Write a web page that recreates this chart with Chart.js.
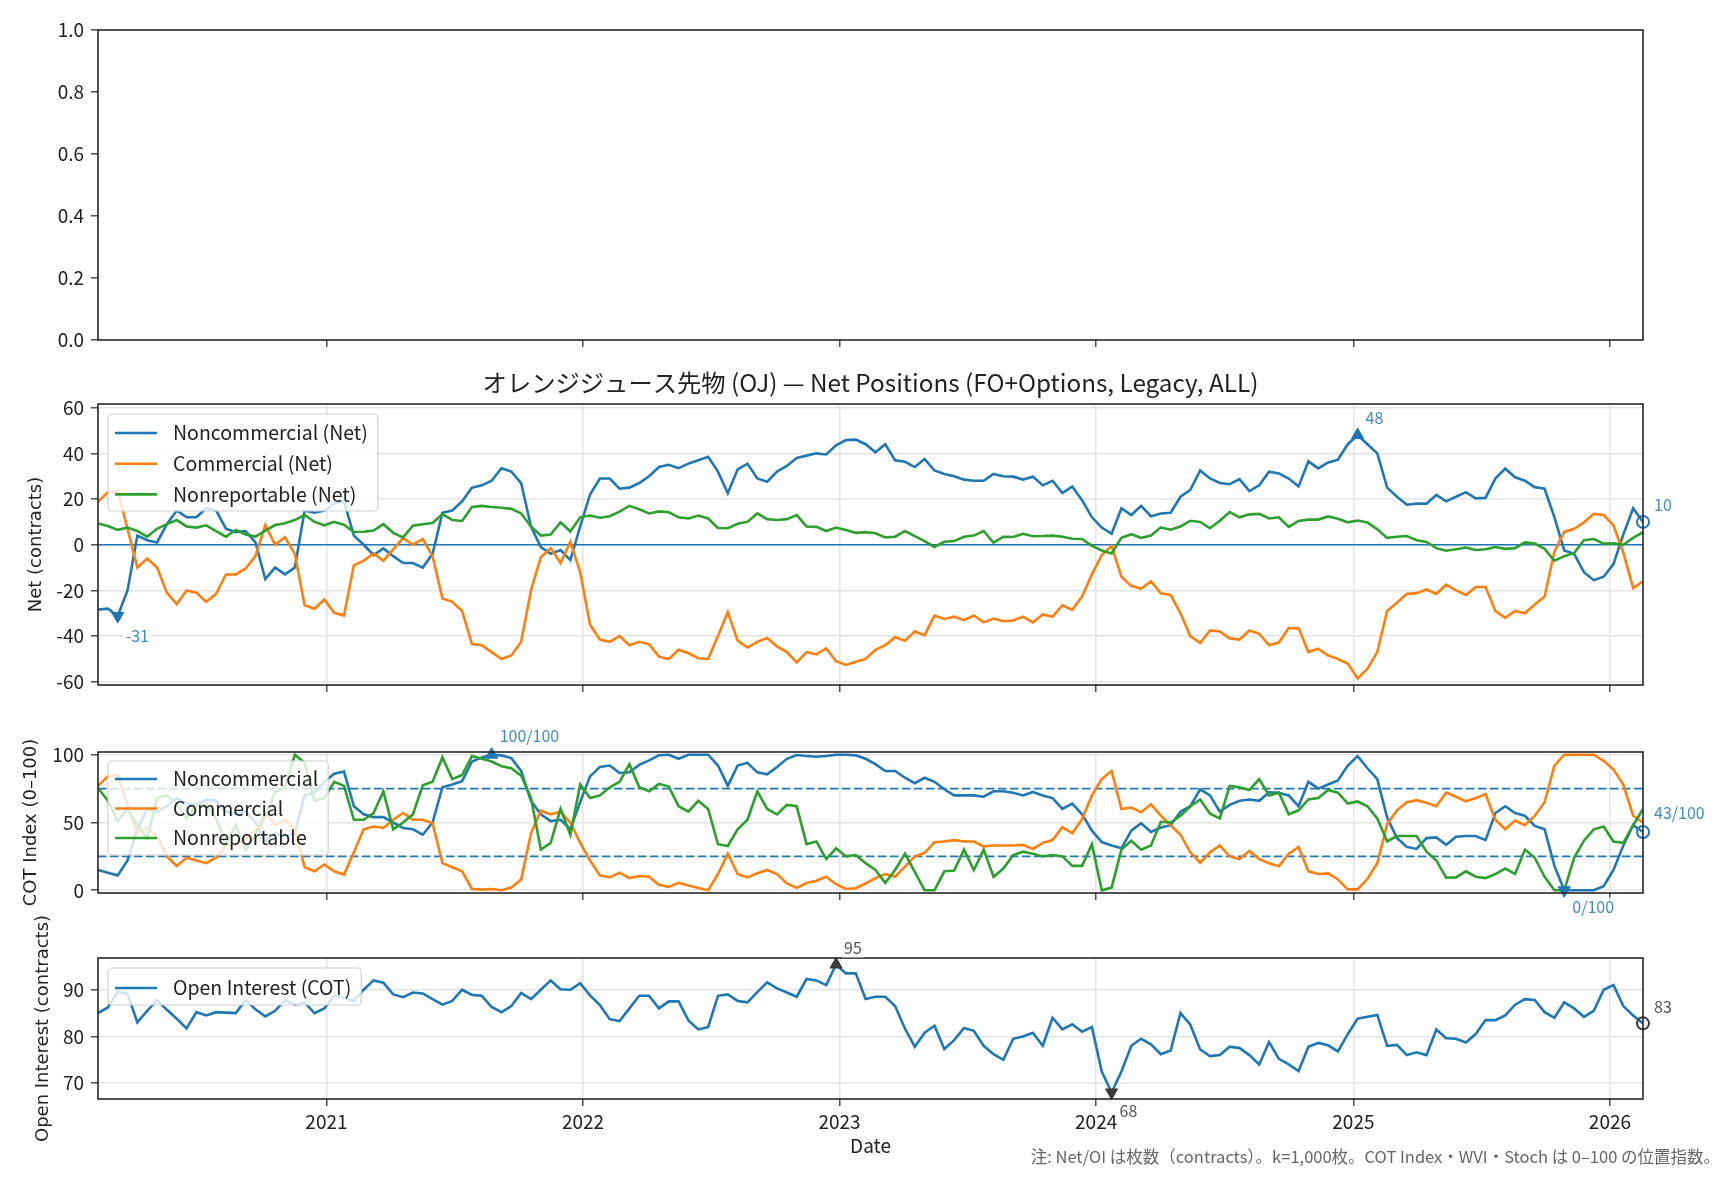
<!DOCTYPE html>
<html>
<head>
<meta charset="utf-8">
<script src="https://cdn.jsdelivr.net/npm/chart.js@4.4.1/dist/chart.umd.min.js"></script>
<style>
  body { margin: 0; background: #fff; width: 1728px; height: 1180px; overflow: hidden; position: relative; }
  .panel { position: absolute; left: 0; width: 1728px; }
</style>
</head>
<body>
<div class="panel" style="top:0px;height:370px"><canvas id="c1"></canvas></div>
<div class="panel" style="top:360px;height:355px"><canvas id="c2"></canvas></div>
<div class="panel" style="top:715px;height:208px"><canvas id="c3"></canvas></div>
<div class="panel" style="top:895px;height:285px"><canvas id="c4"></canvas></div>
<script>
// weekly COT reports, sampled every 2 weeks, 2020-02-11 .. 2026-02-17 (thousand contracts)
const nonCommNet = [-28.4,-28,-31.2,-20,4,2,1,9,15,12,12,16,15,7,5.5,6,1,-15,-10,-13,-10,15,14,15,18,19,4,0,-4.5,-1.6,
  -5,-8,-8,-10,-4,14,15,19,25,26,28,33.5,32,27,8,-1,-4,-2.3,-6.7,8,22,29,29,24.5,25,27,30,34,35,33.5,
  35.5,37,38.5,32,22.5,33,35.5,29,27.6,32,34.5,38,39,40,39.5,43.5,45.8,46,44,40.5,44,37,36.3,34,37.5,32.5,31,30,28.5,28,
  28,31,30,29.8,28.5,29.8,26,28,22.6,25.5,19.5,12,7.5,4.8,16,13,17,12.5,13.7,14,21,24,32.5,29,27,26.5,28.7,23.5,26,32,
  31.2,29,25.5,36.5,33.4,36,37.2,44,48,44,40,25,21,17.5,18,18,21.8,19,21,23,20.3,20.5,29,33.3,29.5,28,25.2,24.5,12,-2.5,
  -4,-12,-15.5,-14,-8.5,4.5,16,10];
const commNet = [18.8,23,23.5,7,-10,-6,-10,-21,-26,-20,-21,-25,-21.5,-13,-13,-10.4,-5,8.6,0,3.3,-4,-26.5,-28,-24,-29.8,-31,-9,-7,-3.8,-7,
  -2,3,0,2.5,-5,-23.5,-25,-29,-43.5,-44,-47,-50,-48.5,-42.5,-20,-5.5,-1.5,-8,1.3,-12,-35,-41.5,-42.5,-40,-44,-42.5,-43.5,-49,-50,-46,
  -47.5,-49.7,-50,-40,-29.5,-42,-45,-42.5,-40.8,-44.5,-47,-51.5,-47,-48,-45.4,-51,-52.6,-51.2,-50,-46,-44,-40.5,-42,-38,-39.6,-31,-32.5,-31.5,-33,-31,
  -34,-32.3,-33.5,-33.2,-31.5,-34,-30.5,-31.5,-26.5,-28.5,-22.7,-13,-4.5,-0.5,-14,-18,-19.3,-16,-21.3,-22,-30,-40,-43,-37.5,-38,-41,-41.5,-37.5,-39,-44,
  -42.8,-36.5,-36.5,-47,-45.5,-48.5,-50,-52,-58.5,-54.3,-47,-29,-25.4,-21.5,-21.2,-19.6,-21.5,-17.5,-20,-22,-18.5,-18.5,-29,-32,-29,-30,-26.2,-22.7,-3,5.6,
  7,9.8,13.5,13,8.5,-3.5,-19,-16];
const nonReptNet = [9.3,8.2,6.5,7.5,6,3.5,7,9,10.8,8,7.5,8.5,6,3.5,6.5,4.5,3.6,6.2,8.6,9.4,10.8,13,10,8.5,10,8.8,5.6,5.7,6.2,9,
  5.2,3.2,8.3,9,9.5,13.4,10.8,10.4,16.5,17,16.5,16.2,15.7,13.7,8,4,4.5,9.8,5.8,12,12.8,11.8,12.5,14.5,17,15.5,13.7,14.6,14.2,12,
  11.5,12.8,11.5,7.3,7.2,9.2,10,13.7,11.2,10.8,11.2,13,8,7.8,6,7.5,6.4,5.2,5.5,5,3.2,3.5,6,3.8,1.6,-1,1.3,1.6,3.5,4,
  6,0.9,3.5,3.4,4.8,3.7,3.8,4,3.5,2.6,2.5,-0.5,-2.5,-3.8,3,4.6,3,4,7.6,6.6,8,10.5,10,7.2,10.5,14.3,12,13.3,13.5,11.5,
  12,7.8,10.4,11,11,12.4,11.4,9.8,10.6,9.7,6.8,3,3.5,3.8,2,1.2,-1.5,-2.6,-2,-1.2,-2.3,-2,-1,-1.8,-1.5,1,0.5,-1.8,-7,-5,
  -3.6,2,2.5,0.5,0.6,0,3,5.5];

// COT Index (0-100)
const nonCommIdx = [15,13,11,22,45,60,58,62,68,64,63,67,66,58,56,58,50,36,42,40,42,70,72,80,86,87.6,62,56,54,54,
  50,46,45,41,50,76,78,80.5,95,98,100,99.5,97.5,88,66,56,51,52,45,65,84,91,92,86.5,87,92.5,95.8,99.6,100,97,
  100,100,100,92,77,92,94,87,85.5,91,97,99.8,99,98.5,99,100,100,99.5,97,93,88,88,83,79,83,80,74.5,70,70,70,
  69,73,73,72,70,72.5,70,68,60,64,56,44,35.6,33,31,44,49.5,43,46.3,48,58,62,74.5,70,58,63,66,67,66,72.3,
  72,70,62,80,75,78,81,92,99,90,82,53.7,38.5,32,30.5,38.5,39,33.5,39.5,40,40,37,57,62,57,55,47.5,45,18,0,
  0,0,0,3,15,33,48,43];
const commIdx = [77,84,85,63,42,46,40,25,18,24,22,20,24,33,34,38,44,57,48,52,45,17,14,19,14,11.6,28,45,47,46,
  52,57,52,52,49.5,20,17,14,1,0.5,1,0,2,8,42,58.7,56,58,50,35,22,11,9.5,13,9,10.5,10,4,2.5,5.5,
  3.5,1.7,0,12,27,12,9.5,12.5,15,12,5,1.8,5.4,7,10,4.5,1,1.5,5,9,12,10,17.5,25,27.6,35.4,36,37,36,36,
  32.4,33,33,33,33.5,30.5,35,37,46.5,42,52.5,70,82,88,60,61,57.5,63.4,55,48,41,28,20.3,28,33,25,23,29,23,20,
  17.8,27,32,14,12,12.5,8,0.7,0.7,8.5,20,48.8,59,65,66.5,64.6,62,72,69,65.6,68,71,52,45,51.5,48,55,65,92,100,
  100,100,100,95.5,89,78,55,50];
const nonReptIdx = [75.5,66,51,60,48,38,68,70,64,53,63,63,53,34,48,30,41,55,72.5,76,100,94,66,68,80,77,52,52,57,73,
  45,50,56,77.5,80,98,82,85,99,97,95,91.5,90,84.6,68,30,35,60,41,78,68,70,76,80,93,76,73,78.5,76.5,62,
  58,66,60,34,32.7,45,52,73,60,56,63,62,34,36,23,31,25,26,20,15,5.5,15,27,13.5,0,0,14,14.6,30,15,
  30,10,16,26,28.5,27,25,26,25,18,18,34,0,2,30,36.6,30,33,50.5,50,55,62,67,56.5,53,77,76,74,82,70,
  72,56,59,67,68,74,72,64,65.5,62,53,36,40,40,40,28.5,22,9.3,9.5,14,10,9,12,16,12,30,24,10,0,0,
  24,36.6,45,47,36,35,48,60];

// Open interest (thousand contracts)
const openInterest = [85,86.2,89.6,89.1,83,85.5,87.8,85.7,83.8,81.7,85.2,84.5,85.2,85.1,85,87.8,85.8,84.3,85.5,87.8,86.8,87.3,85,86,88.7,88.3,87.6,90,92,91.5,
  89,88.4,89.4,89.2,88,86.8,87.6,90,88.9,88.7,86.3,85.2,86.5,89.3,88,90,92,90.1,90,91.4,88.8,86.7,83.7,83.3,86,88.7,88.7,86,87.5,87.5,
  83.4,81.5,82,88.7,89,87.6,87.3,89.5,91.6,90.3,89.4,88.5,92.3,92,91,95.4,93.5,93.5,88,88.5,88.5,86.5,81.7,77.8,80.8,82.3,77.3,79.2,81.8,81.2,
  78,76.2,75,79.5,80,80.8,78,84,81.5,82.6,81,82,72.5,68,72.5,78,79.5,78.3,76.2,77,85,82.5,77.2,75.8,76,77.8,77.5,76,74,78.8,
  75.2,74,72.6,77.8,78.6,78.1,76.8,80.5,83.8,84.2,84.6,78,78.2,76,76.6,76,81.5,79.6,79.5,78.7,80.5,83.5,83.5,84.5,86.8,88,87.8,85.2,84,87.3,
  86,84.2,85.5,90,91,86.5,84.5,82.8];

const YEARS = [2021, 2022, 2023, 2024, 2025, 2026];
const START = Date.UTC(2020, 1, 11);
const dates = nonCommNet.map((v, i) => START + i * 14 * 86400000);

const BLUE = '#1f77b4', ORANGE = '#ff7f0e', GREEN = '#2ca02c';
const GRID = '#e4e4e4';
const TXT = '#222';
const FONT = "'Noto Sans CJK JP', 'Noto Sans', sans-serif";
const LBL_BLUE = 'rgba(31,119,180,0.85)';
const LW = 2.6;

Chart.defaults.font.family = FONT;
Chart.defaults.color = TXT;

const pts = vals => vals.map((v, i) => ({ x: dates[i], y: v }));
const argMax = a => a.indexOf(Math.max(...a));
const argMin = a => a.indexOf(Math.min(...a));

function line(label, vals, color, order) {
  return { label, data: pts(vals), borderColor: color, backgroundColor: color,
    borderWidth: LW, pointRadius: 0, tension: 0, order };
}
function marker(vals, i, color, style, down) {
  const hollow = style === 'circle';
  return { data: [{ x: dates[i], y: vals[i] }], showLine: false, clip: false, order: 0,
    pointStyle: style, pointRotation: down ? 180 : 0, pointRadius: hollow ? 6 : 7,
    pointBackgroundColor: hollow ? 'rgba(0,0,0,0)' : color, pointBorderColor: color,
    pointBorderWidth: hollow ? 2 : 1 };
}

function xScale(showLabels, h, grid, title) {
  return {
    type: 'linear', min: dates[0], max: dates[dates.length - 1],
    afterBuildTicks: s => { s.ticks = YEARS.map(y => ({ value: Date.UTC(y, 0, 1) })); },
    afterFit: s => { s.height = h; },
    border: { display: false },
    grid: { display: true, drawOnChartArea: grid, color: GRID, lineWidth: 1.6,
      tickLength: 7, tickColor: '#333', tickWidth: 1.3 },
    ticks: { display: showLabels, padding: 4, color: TXT, font: { size: 19 },
      callback: v => String(new Date(v).getUTCFullYear()) },
    title: title ? { display: true, text: title, color: TXT, font: { size: 19 }, padding: { top: 4, bottom: 4 } }
                 : { display: false }
  };
}
function yScale(min, max, ticks, padLeft, grid, title, fmt) {
  return {
    min, max,
    afterBuildTicks: s => { s.ticks = ticks.map(v => ({ value: v })); },
    afterFit: s => { s.width = 98 - padLeft; },
    border: { display: false },
    grid: { display: true, drawOnChartArea: grid, color: GRID, lineWidth: 1.6,
      tickLength: 7, tickColor: '#333', tickWidth: 1.3 },
    ticks: { padding: 7, color: TXT, font: { size: 19 }, callback: fmt || (v => String(v)) },
    title: title ? { display: true, text: title, color: TXT,
      font: { family: "'DejaVu Sans', sans-serif", size: 18 }, padding: { top: 4, bottom: 4 } }
                 : { display: false }
  };
}

// frame, reference lines, legend and value labels
function panelPlugin(p) {
  return {
    id: 'panel',
    beforeDatasetsDraw(chart) {
      const { ctx, chartArea: a, scales: { y } } = chart;
      (p.hlines || []).forEach(h => {
        const py = y.getPixelForValue(h.v);
        ctx.save();
        ctx.strokeStyle = BLUE; ctx.lineWidth = 1.7;
        ctx.setLineDash(h.dash || []);
        ctx.beginPath(); ctx.moveTo(a.left, py); ctx.lineTo(a.right, py); ctx.stroke();
        ctx.restore();
      });
    },
    afterDatasetsDraw(chart) {
      if (!p.legend) return;
      const { ctx } = chart;
      const L = p.legend;
      ctx.save();
      ctx.font = '19.5px ' + FONT;
      let w = 0;
      L.items.forEach(it => { w = Math.max(w, ctx.measureText(it.text).width); });
      const x0 = 108, y0 = L.top - p.top, bw = 65 + w + 10;
      ctx.beginPath();
      ctx.roundRect(x0, y0, bw, L.height, 4);
      ctx.fillStyle = 'rgba(255,255,255,0.8)'; ctx.fill();
      ctx.strokeStyle = '#d0d0d0'; ctx.lineWidth = 1.2; ctx.stroke();
      L.items.forEach((it, k) => {
        const ry = y0 + L.first + k * L.step;
        ctx.strokeStyle = it.color; ctx.lineWidth = LW;
        ctx.beginPath(); ctx.moveTo(x0 + 7, ry); ctx.lineTo(x0 + 49, ry); ctx.stroke();
        ctx.fillStyle = TXT; ctx.textBaseline = 'middle'; ctx.textAlign = 'left';
        ctx.fillText(it.text, x0 + 65, ry);
      });
      ctx.restore();
    },
    afterDraw(chart) {
      const { ctx, chartArea: a, scales: { x, y } } = chart;
      ctx.save();
      ctx.strokeStyle = '#262626'; ctx.lineWidth = 1.6;
      ctx.strokeRect(a.left, a.top, a.right - a.left, a.bottom - a.top);
      ctx.font = '16px ' + FONT;
      ctx.textBaseline = 'middle'; ctx.textAlign = 'left';
      (p.labels || []).forEach(l => {
        const px = l.last ? a.right + 11 : x.getPixelForValue(dates[l.i]) + 8;
        const py = y.getPixelForValue(l.vals[l.i]) + l.dy;
        const tw = ctx.measureText(l.text).width;
        ctx.fillStyle = 'rgba(255,255,255,0.7)';
        ctx.fillRect(px - 2, py - 10, tw + 4, 20);
        ctx.fillStyle = l.color;
        ctx.fillText(l.text, px, py);
      });
      (p.texts || []).forEach(t => {
        ctx.font = t.size + 'px ' + FONT;
        ctx.fillStyle = t.color; ctx.textAlign = t.align;
        const tx = t.x === 'center' ? (a.left + a.right) / 2 : t.x;
        ctx.fillText(t.text, tx, t.y - p.top);
      });
      ctx.restore();
    }
  };
}

function makeChart(id, p) {
  return new Chart(document.getElementById(id), {
    type: 'line',
    data: { datasets: p.datasets },
    options: {
      responsive: true, maintainAspectRatio: false, animation: false,
      layout: { padding: { left: p.padLeft, top: p.padTop, right: 85, bottom: p.padBottom || 0 } },
      plugins: { legend: { display: false }, tooltip: { enabled: false } },
      scales: { x: p.x, y: p.y }
    },
    plugins: [panelPlugin(p)]
  });
}

// panel 1: empty axes
makeChart('c1', {
  top: 0, padLeft: 50, padTop: 30, datasets: [],
  x: xScale(false, 30, false),
  y: yScale(0, 1, [0, 0.2, 0.4, 0.6, 0.8, 1.0], 50, false, null, v => v.toFixed(1))
});

// panel 2: net positions
const ncMax = argMax(nonCommNet), ncMin = argMin(nonCommNet), lastI = nonCommNet.length - 1;
makeChart('c2', {
  top: 360, padLeft: 22, padTop: 44,
  datasets: [
    line('Noncommercial (Net)', nonCommNet, BLUE, 3),
    line('Commercial (Net)', commNet, ORANGE, 2),
    line('Nonreportable (Net)', nonReptNet, GREEN, 1),
    marker(nonCommNet, ncMax, BLUE, 'triangle', false),
    marker(nonCommNet, ncMin, BLUE, 'triangle', true),
    marker(nonCommNet, lastI, BLUE, 'circle')
  ],
  x: xScale(false, 30, true),
  y: yScale(-61.4, 61.6, [-60, -40, -20, 0, 20, 40, 60], 22, true, 'Net (contracts)'),
  hlines: [{ v: 0 }],
  legend: { top: 414, height: 97, first: 19, step: 30.7, items: [
    { text: 'Noncommercial (Net)', color: BLUE },
    { text: 'Commercial (Net)', color: ORANGE },
    { text: 'Nonreportable (Net)', color: GREEN }] },
  labels: [
    { i: ncMax, vals: nonCommNet, text: String(Math.round(nonCommNet[ncMax])), dy: -17, color: LBL_BLUE },
    { i: ncMin, vals: nonCommNet, text: String(Math.round(nonCommNet[ncMin])), dy: 20, color: LBL_BLUE },
    { i: lastI, vals: nonCommNet, text: String(Math.round(nonCommNet[lastI])), dy: -17, color: LBL_BLUE, last: true }
  ],
  texts: [{ text: 'オレンジジュース先物 (OJ) — Net Positions (FO+Options, Legacy, ALL)', x: 'center', y: 383,
    size: 24.3, color: TXT, align: 'center' }]
});

// panel 3: COT index
const ixMax = argMax(nonCommIdx), ixMin = argMin(nonCommIdx);
makeChart('c3', {
  top: 715, padLeft: 17, padTop: 37,
  datasets: [
    line('Noncommercial', nonCommIdx, BLUE, 3),
    line('Commercial', commIdx, ORANGE, 2),
    line('Nonreportable', nonReptIdx, GREEN, 1),
    marker(nonCommIdx, ixMax, BLUE, 'triangle', false),
    marker(nonCommIdx, ixMin, BLUE, 'triangle', true),
    marker(nonCommIdx, lastI, BLUE, 'circle')
  ],
  x: xScale(false, 30, true),
  y: yScale(-2, 102, [0, 50, 100], 17, true, 'COT Index (0–100)'),
  hlines: [{ v: 75, dash: [8.5, 3.5] }, { v: 25, dash: [8.5, 3.5] }],
  legend: { top: 761, height: 94, first: 18, step: 29.5, items: [
    { text: 'Noncommercial', color: BLUE },
    { text: 'Commercial', color: ORANGE },
    { text: 'Nonreportable', color: GREEN }] },
  labels: [
    { i: ixMax, vals: nonCommIdx, text: Math.round(nonCommIdx[ixMax]) + '/100', dy: -19, color: LBL_BLUE },
    { i: ixMin, vals: nonCommIdx, text: Math.round(nonCommIdx[ixMin]) + '/100', dy: 17, color: LBL_BLUE },
    { i: lastI, vals: nonCommIdx, text: Math.round(nonCommIdx[lastI]) + '/100', dy: -19, color: LBL_BLUE, last: true }
  ]
});

// panel 4: open interest
const oiMax = argMax(openInterest), oiMin = argMin(openInterest);
makeChart('c4', {
  top: 895, padLeft: 29, padTop: 63, padBottom: 19,
  datasets: [
    line('Open Interest (COT)', openInterest, BLUE, 3),
    marker(openInterest, oiMax, '#3a3a3a', 'triangle', false),
    marker(openInterest, oiMin, '#3a3a3a', 'triangle', true),
    marker(openInterest, lastI, '#3a3a3a', 'circle')
  ],
  x: xScale(true, 62, true, 'Date'),
  y: yScale(66.6, 96.8, [70, 80, 90], 29, true, 'Open Interest (contracts)'),
  legend: { top: 968, height: 37, first: 20, step: 30, items: [
    { text: 'Open Interest (COT)', color: BLUE }] },
  labels: [
    { i: oiMax, vals: openInterest, text: String(Math.round(openInterest[oiMax])), dy: -17, color: '#555' },
    { i: oiMin, vals: openInterest, text: String(Math.round(openInterest[oiMin])), dy: 18, color: '#555' },
    { i: lastI, vals: openInterest, text: String(Math.round(openInterest[lastI])), dy: -16, color: '#555', last: true }
  ],
  texts: [{ text: '注: Net/OI は枚数（contracts）。k=1,000枚。COT Index・WVI・Stoch は 0–100 の位置指数。',
    x: 1720, y: 1157, size: 16.5, color: '#666', align: 'right' }]
});
</script>
</body>
</html>
